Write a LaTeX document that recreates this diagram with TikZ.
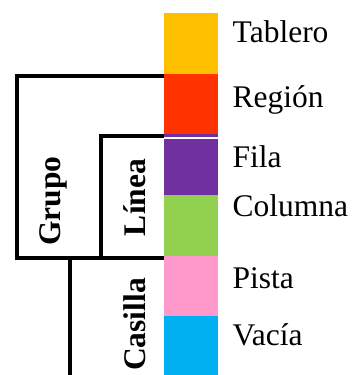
\documentclass[tikz,border=0pt]{standalone}
\usepackage{fontspec}
\setmainfont{Liberation Serif}
\definecolor{cTablero}{HTML}{FFC000}
\definecolor{cRegion}{HTML}{FF3300}
\definecolor{cFila}{HTML}{7030A0}
\definecolor{cColumna}{HTML}{92D050}
\definecolor{cPista}{HTML}{FF99CC}
\definecolor{cVacia}{HTML}{00B0F0}
\begin{document}
\begin{tikzpicture}[x=1pt,y=-1pt,
  lbl/.style={anchor=base west,inner sep=0pt,font=\fontsize{31.5}{36}\selectfont},
  grp/.style={rotate=90,anchor=base,inner sep=0pt,font=\fontsize{31.5}{36}\selectfont\bfseries},
  bracket/.style={line width=4pt,line cap=rect}]
\useasboundingbox (0,0) rectangle (354,375);

% grouping brackets (drawn first, the colour column covers their ends)
\draw[bracket] (164,76) -- (17,76) -- (17,258) -- (164,258);
\draw[bracket] (164,136) -- (101,136) -- (101,258);
\draw[bracket,line cap=butt] (69.5,258) -- (69.5,375);

% colour column
\fill[cTablero] (164,13) rectangle (218,74);
\fill[cRegion]  (164,74) rectangle (218,134);
\fill[cFila]    (164,134) rectangle (218,195);
\fill[cColumna] (164,195) rectangle (218,256);
\fill[cPista]   (164,256) rectangle (218,316);
\fill[cVacia]   (164,316) rectangle (218,375);
\draw[white,line width=1.6pt] (164,138) -- (218,138);

% labels of the levels
\node[lbl] (tablero) at (232.5,42) {Tablero};
\node[lbl] (region)  at (232.5,107) {Región};
\node[lbl] (fila)    at (232.5,167) {Fila};
\node[lbl] (columna) at (232.5,216) {Columna};
\node[lbl] (pista)   at (232.5,288) {Pista};
\node[lbl] (vacia)   at (232.5,345) {Vacía};

% group names
\node[grp] (grupo)   at (60,201) {Grupo};
\node[grp] (linea)   at (145,197.5) {Línea};
\node[grp] (casilla) at (145,324.5) {Casilla};
\end{tikzpicture}
\end{document}
